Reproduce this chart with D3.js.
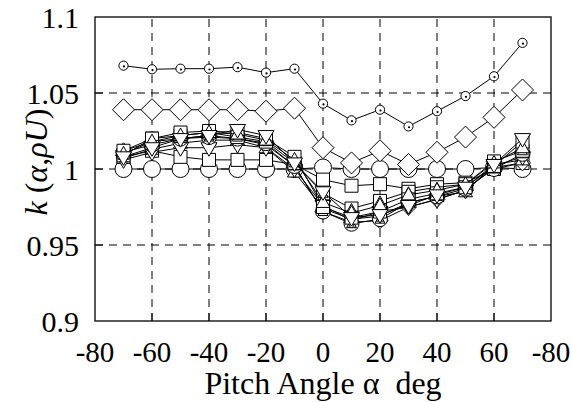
<!DOCTYPE html>
<html>
<head>
<meta charset="utf-8">
<script src="https://cdn.jsdelivr.net/npm/d3@7"></script>
</head>
<body style="margin:0">
<script>
// pitch angle (deg)
var angles = [-70, -60, -50, -40, -30, -20, -10, 0, 10, 20, 30, 40, 50, 60, 70];
var xTicks = [-80, -60, -40, -20, 0, 20, 40, 60, 80];
var xTickLabels = ["-80", "-60", "-40", "-20", "0", "20", "40", "60", "-80"];
var yTicks = [0.9, 0.95, 1, 1.05, 1.1];
var yTickLabels = ["0.9", "0.95", "1", "1.05", "1.1"];

// k(alpha, rhoU) for each curve
var kDotCircle = [1.068, 1.0656, 1.066, 1.066, 1.067, 1.0634, 1.066, 1.043, 1.032, 1.039, 1.028, 1.038, 1.048, 1.061, 1.083];
var kDiamond   = [1.039, 1.039, 1.039, 1.039, 1.039, 1.038, 1.040, 1.014, 1.004, 1.012, 1.003, 1.011, 1.021, 1.034, 1.052];
var kCircle    = [1.000, 1.000, 1.000, 1.000, 1.000, 1.000, 1.000, 1.001, 1.000, 1.000, 1.000, 1.000, 1.000, 1.001, 1.000];
var kSquareA   = [1.008, 1.012, 1.008, 1.006, 1.006, 1.006, 1.003, 0.993, 0.989, 0.990, 0.987, 0.990, 0.991, 1.000, 1.004];
var kSquareB   = [1.012, 1.020, 1.024, 1.025, 1.024, 1.020, 1.008, 0.975, 0.968, 0.972, 0.980, 0.984, 0.988, 1.002, 1.018];
var kTriUpA    = [1.010, 1.018, 1.022, 1.024, 1.023, 1.019, 1.006, 0.978, 0.971, 0.976, 0.983, 0.986, 0.990, 1.004, 1.014];
var kTriDownA  = [1.008, 1.014, 1.020, 1.022, 1.026, 1.022, 1.004, 0.985, 0.968, 0.970, 0.976, 0.983, 0.988, 1.003, 1.020];
var kCircleTri = [1.011, 1.016, 1.020, 1.021, 1.020, 1.017, 1.002, 0.972, 0.964, 0.967, 0.978, 0.982, 0.987, 1.000, 1.010];
var kTriDownB  = [1.006, 1.011, 1.014, 1.014, 1.016, 1.014, 1.000, 0.976, 0.966, 0.972, 0.975, 0.980, 0.986, 1.002, 1.008];
var kSquareTri = [1.009, 1.020, 1.022, 1.024, 1.021, 1.018, 1.004, 0.984, 0.974, 0.979, 0.985, 0.988, 0.990, 1.005, 1.012];
var kDiamondS  = [1.012, 1.018, 1.020, 1.022, 1.020, 1.016, 1.002, 0.972, 0.965, 0.966, 0.975, 0.980, 0.986, 1.001, 1.004];
var kTriUpB    = [1.007, 1.013, 1.017, 1.019, 1.019, 1.014, 0.998, 0.974, 0.967, 0.969, 0.978, 0.982, 0.985, 1.003, 1.006];

var series = [
  {values: kCircle, shape: "circle"},
  {values: kSquareA, shape: "square"},
  {values: kDiamondS, shape: "diamondS"},
  {values: kTriUpB, shape: "triUp"},
  {values: kTriDownB, shape: "triDown"},
  {values: kCircleTri, shape: "circleTri"},
  {values: kSquareTri, shape: "squareTri"},
  {values: kSquareB, shape: "square"},
  {values: kTriUpA, shape: "triUp"},
  {values: kTriDownA, shape: "triDown"},
  {values: kDiamond, shape: "diamond"},
  {values: kDotCircle, shape: "dotCircle"}
];

var FONT = "Liberation Serif";
var W = 572, H = 402;
var margin = {left: 95, right: 21, top: 17, bottom: 81};

var x = d3.scaleLinear().domain([-80, 80]).range([margin.left, W - margin.right]);
var y = d3.scaleLinear().domain([0.9, 1.1]).range([H - margin.bottom, margin.top]);

var svg = d3.select("body").append("svg")
    .attr("width", W).attr("height", H);

// grid
var grid = svg.append("g").attr("stroke", "#000").attr("stroke-width", 1)
    .attr("stroke-dasharray", "8,6").attr("fill", "none");
grid.selectAll("line.v").data(xTicks.slice(1, -1)).join("line")
    .attr("x1", d => x(d)).attr("x2", d => x(d))
    .attr("y1", y(0.9)).attr("y2", y(1.1));
grid.selectAll("line.h").data(yTicks.slice(1, -1)).join("line")
    .attr("x1", x(-80)).attr("x2", x(80))
    .attr("y1", d => y(d)).attr("y2", d => y(d));

// tick marks (inside)
svg.append("g").attr("stroke", "#000").selectAll("line").data(xTicks.slice(1, -1)).join("line")
    .attr("x1", d => x(d)).attr("x2", d => x(d))
    .attr("y1", y(0.9)).attr("y2", y(0.9) - 8);
svg.append("g").attr("stroke", "#000").selectAll("line").data(yTicks.slice(1, -1)).join("line")
    .attr("x1", x(-80)).attr("x2", x(-80) + 8)
    .attr("y1", d => y(d)).attr("y2", d => y(d));

// tick labels
svg.append("g").selectAll("text").data(xTicks).join("text")
    .attr("x", d => x(d)).attr("y", y(0.9) + 41)
    .attr("text-anchor", "middle")
    .attr("font-family", FONT).attr("font-size", 29)
    .text((d, i) => xTickLabels[i]);
svg.append("g").selectAll("text").data(yTicks).join("text")
    .attr("x", x(-80) - 16).attr("y", d => y(d) + 11)
    .attr("text-anchor", "end")
    .attr("font-family", FONT).attr("font-size", 30)
    .text((d, i) => yTickLabels[i]);

svg.append("rect")
    .attr("x", x(-80)).attr("y", y(1.1))
    .attr("width", x(80) - x(-80)).attr("height", y(0.9) - y(1.1))
    .attr("fill", "none").attr("stroke", "#000").attr("stroke-width", 1.3);

// marker paths
function markerPath(shape) {
  switch (shape) {
    case "circle": return "M-8.5,0a8.5,8.5 0 1,0 17,0a8.5,8.5 0 1,0 -17,0Z";
    case "dotCircle": return "M-4.6,0a4.6,4.6 0 1,0 9.2,0a4.6,4.6 0 1,0 -9.2,0Z";
    case "square": return "M-6.5,-6.5H6.5V6.5H-6.5Z";
    case "squareTri": return "M-6.5,-6.5H6.5V6.5H-6.5Z M0,-5L5,4H-5Z";
    case "circleTri": return "M-7.5,0a7.5,7.5 0 1,0 15,0a7.5,7.5 0 1,0 -15,0Z M0,-5L5,4H-5Z";
    case "diamond": return "M0,-11L11,0L0,11L-11,0Z";
    case "diamondS": return "M0,-8L8,0L0,8L-8,0Z";
    case "triUp": return "M0,-7.5L7,5H-7Z";
    case "triDown": return "M0,8.5L8,-5H-8Z";
  }
}

var line = d3.line().x((d, i) => x(angles[i])).y(d => y(d));

series.forEach(function(s) {
  var g = svg.append("g");
  g.append("path").datum(s.values)
      .attr("d", line)
      .attr("fill", "none").attr("stroke", "#000").attr("stroke-width", 1);
  g.selectAll("path.m").data(s.values).join("path")
      .attr("class", "m")
      .attr("transform", (d, i) => `translate(${x(angles[i])},${y(d)})`)
      .attr("d", markerPath(s.shape))
      .attr("fill", "#fff").attr("stroke", "#000").attr("stroke-width", 1);
  if (s.shape === "dotCircle") {
    g.selectAll("circle.dot").data(s.values).join("circle")
        .attr("class", "dot")
        .attr("cx", (d, i) => x(angles[i]) + 0.5).attr("cy", d => y(d) + 0.8)
        .attr("r", 1.1).attr("fill", "#000");
  }
});

// axis titles
svg.append("text")
    .attr("x", x(0)).attr("y", 394)
    .attr("text-anchor", "middle")
    .attr("font-family", FONT).attr("font-size", 32)
    .text("Pitch Angle α\u00a0 deg");

var yt = svg.append("text")
    .attr("transform", "translate(47,162) rotate(-90)")
    .attr("text-anchor", "middle")
    .attr("font-family", FONT).attr("font-size", 32);
yt.append("tspan").attr("font-style", "italic").text("k");
yt.append("tspan").text(" (");
yt.append("tspan").attr("font-style", "italic").text("α");
yt.append("tspan").text(",");
yt.append("tspan").attr("font-style", "italic").text("ρU");
yt.append("tspan").text(")");
</script>
</body>
</html>
